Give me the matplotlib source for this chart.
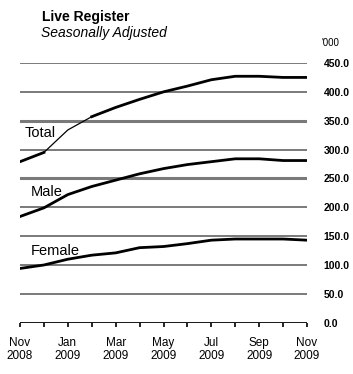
import matplotlib
matplotlib.use("Agg")
import matplotlib.pyplot as plt
import numpy as np

plt.rcParams['font.family'] = ['Liberation Sans', 'DejaVu Sans']

months = ["Nov\n2008", "Dec", "Jan\n2009", "Feb", "Mar\n2009", "Apr", "May\n2009",
          "Jun", "Jul\n2009", "Aug", "Sep\n2009", "Oct", "Nov\n2009"]
total = [279, 295, 334, 357, 373, 387, 400, 410, 421, 427, 427, 425, 425]
male = [184, 199, 222, 236, 247, 258, 267, 274, 279, 284, 284, 281, 281]
female = [94, 100, 110, 117, 121, 130, 132, 137, 143, 145, 145, 145, 143]
yticks = [0, 50, 100, 150, 200, 250, 300, 350, 400, 450]

fig = plt.figure(figsize=(3.53, 3.74), dpi=100)
ax = fig.add_axes([20/353, (374-322.7)/374, (307-20)/353, (322.7-63)/374])
x = np.arange(len(months))

for v in yticks[1:]:
    lw = 2.2 if v in (250, 350) else 1.4
    ax.axhline(v, color='#7a7a7a', lw=lw, zorder=1)
ax.axhline(0, color='black', lw=2.0, zorder=3)

lw = 2.0
ax.plot(x[:2], total[:2], color='black', lw=lw, zorder=4)
ax.plot(x[1:4], total[1:4], color='black', lw=0.9, zorder=4)
ax.plot(x[3:], total[3:], color='black', lw=lw, zorder=4)
ax.plot(x, male, color='black', lw=lw, zorder=4)
ax.plot(x, female, color='black', lw=lw, zorder=4)

ax.set_xlim(0, 12)
ax.set_ylim(0, 450)
for s in ax.spines.values():
    s.set_visible(False)

ax.set_xticks(x)
ax.set_xticklabels([m if "\n" in m else "" for m in months], fontsize=8.5, linespacing=1.15)
ax.tick_params(axis='x', length=3, width=1.2, color='black', pad=7)

ax.yaxis.tick_right()
ax.set_yticks(yticks)
ax.set_yticklabels([f"{v:.1f}" for v in yticks], fontsize=7.5, fontweight='bold')
ax.tick_params(axis='y', length=0, pad=12)

fig.text(322/353, 1 - 43/374, "'000", fontsize=7, va='center', ha='left')
fig.text(42/353, 1 - 17/374, "Live Register", fontsize=10, fontweight='bold', va='center', ha='left')
fig.text(41/353, 1 - 33/374, "Seasonally Adjusted", fontsize=10, style='italic', va='center', ha='left')

ax.text(0.2, 328, "Total", fontsize=10.5, va='center', ha='left')
ax.text(0.45, 226, "Male", fontsize=10.5, va='center', ha='left')
ax.text(0.45, 124, "Female", fontsize=10.5, va='center', ha='left')

fig.savefig("out.png", dpi=100)
